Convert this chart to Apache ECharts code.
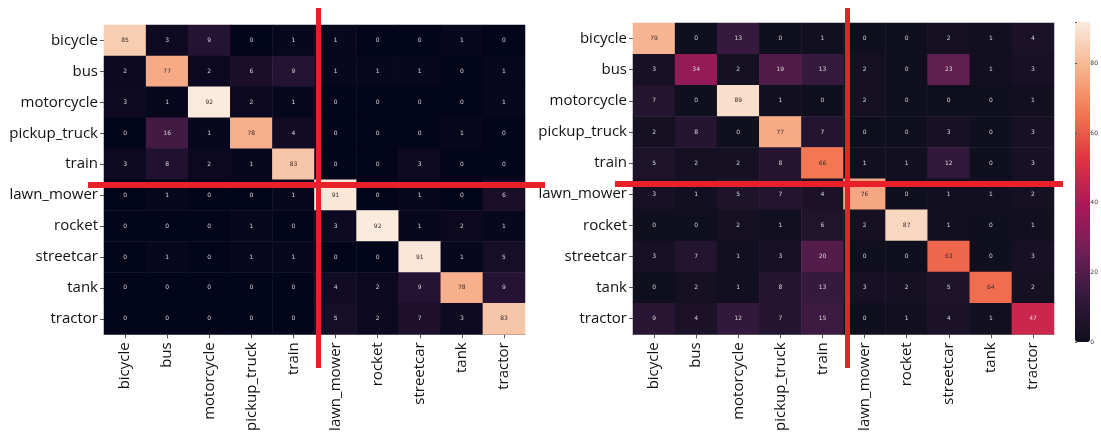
<!DOCTYPE html>
<html>
<head>
<meta charset="utf-8">
<script src="https://cdn.jsdelivr.net/npm/echarts@6/dist/echarts.min.js"></script>
<style>
  html, body { margin: 0; padding: 0; background: #fff; }
  #main { width: 1101px; height: 434px; }
</style>
</head>
<body>
<div id="main"></div>
<script>
const classes = ['bicycle', 'bus', 'motorcycle', 'pickup_truck', 'train',
                 'lawn_mower', 'rocket', 'streetcar', 'tank', 'tractor'];

// rows = true class, columns = predicted class
const leftMatrix = [
  [85, 3, 9, 0, 1, 1, 0, 0, 1, 0],
  [2, 77, 2, 6, 9, 1, 1, 1, 0, 1],
  [3, 1, 92, 2, 1, 0, 0, 0, 0, 1],
  [0, 16, 1, 78, 4, 0, 0, 0, 1, 0],
  [3, 8, 2, 1, 83, 0, 0, 3, 0, 0],
  [0, 1, 0, 0, 1, 91, 0, 1, 0, 6],
  [0, 0, 0, 1, 0, 3, 92, 1, 2, 1],
  [0, 1, 0, 1, 1, 0, 0, 91, 1, 5],
  [0, 0, 0, 0, 0, 4, 2, 9, 78, 9],
  [0, 0, 0, 0, 0, 5, 2, 7, 3, 83]
];

const rightMatrix = [
  [79, 0, 13, 0, 1, 0, 0, 2, 1, 4],
  [3, 34, 2, 19, 13, 2, 0, 23, 1, 3],
  [7, 0, 89, 1, 0, 2, 0, 0, 0, 1],
  [2, 8, 0, 77, 7, 0, 0, 3, 0, 3],
  [5, 2, 2, 8, 66, 1, 1, 12, 0, 3],
  [3, 1, 5, 7, 4, 76, 0, 1, 1, 2],
  [0, 0, 2, 1, 6, 2, 87, 1, 0, 1],
  [3, 7, 1, 3, 20, 0, 0, 63, 0, 3],
  [0, 2, 1, 8, 13, 3, 2, 5, 64, 2],
  [9, 4, 12, 7, 15, 0, 1, 4, 1, 47]
];

const colorTicks = [0, 20, 40, 60, 80];
const vMax = 92;

const rocket = ['#03051a', '#35193e', '#701f57', '#ad1759', '#e13342', '#f37651', '#f6b48f', '#faebdd'];
const rocketRight = ['#0f0f1d', '#35193e', '#701f57', '#ad1759', '#e13342', '#f37651', '#f6b48f', '#faebdd'];

function toCells(m) {
  const out = [];
  m.forEach((row, r) => row.forEach((v, c) => {
    out.push({
      value: [c, r, v],
      label: { color: v > 55 ? '#3a2a2a' : '#d8d8d8' }
    });
  }));
  return out;
}

const font = '"Open Sans", "Noto Sans", sans-serif';

function xAxis(gi) {
  return {
    type: 'category', data: classes, gridIndex: gi,
    axisLine: { show: true, lineStyle: { color: '#888', width: 1 } },
    axisTick: { show: true, length: 4, alignWithLabel: true, lineStyle: { color: '#555' } },
    axisLabel: { rotate: 90, fontSize: 15, color: '#111', fontFamily: font, margin: 8 },
    splitArea: { show: false }
  };
}
function yAxis(gi) {
  return {
    type: 'category', data: classes, gridIndex: gi, inverse: true,
    axisLine: { show: false },
    axisTick: { show: true, length: 4, alignWithLabel: true, lineStyle: { color: '#555' } },
    axisLabel: { fontSize: 15, color: '#111', fontFamily: font, margin: 6 }
  };
}

const cellLabel = { show: true, fontSize: 6, fontFamily: 'DejaVu Sans, sans-serif' };

const red = '#e8202a';
function redRect(x, y, w, h) {
  return { type: 'rect', shape: { x: x, y: y, width: w, height: h }, style: { fill: red }, z: 100 };
}

const chart = echarts.init(document.getElementById('main'));
chart.setOption({
  animation: false,
  backgroundColor: '#fff',
  grid: [
    { left: 104, top: 25, width: 421, height: 318 },
    { left: 633, top: 23, width: 421, height: 320 },
    { left: 1075, top: 22, width: 15, height: 320 }
  ],
  xAxis: [xAxis(0), xAxis(1), { type: 'value', gridIndex: 2, show: false }],
  yAxis: [yAxis(0), yAxis(1), {
    type: 'value', gridIndex: 2, position: 'right', min: 0, max: vMax,
    interval: 20, z: 20,
    axisLine: { show: false },
    axisTick: { show: true, length: 2, lineStyle: { color: '#555' } },
    axisLabel: { fontSize: 6, color: '#333', margin: 1, fontFamily: 'DejaVu Sans, sans-serif',
      formatter: v => colorTicks.indexOf(v) >= 0 ? String(v) : '' },
    splitLine: { show: false }
  }],
  visualMap: [
    { type: 'continuous', min: 0, max: vMax, seriesIndex: 0, show: false,
      inRange: { color: rocket } },
    { type: 'continuous', min: 0, max: vMax, seriesIndex: 1, show: true, z: 1,
      left: 1075, top: 22, itemWidth: 15, itemHeight: 320, padding: 0,
      calculable: false, text: null, showLabel: false, hoverLink: false,
      inRange: { color: rocketRight } }
  ],
  series: [
    { type: 'heatmap', xAxisIndex: 0, yAxisIndex: 0, data: toCells(leftMatrix), label: cellLabel,
      itemStyle: { borderWidth: 0 } },
    { type: 'heatmap', xAxisIndex: 1, yAxisIndex: 1, data: toCells(rightMatrix), label: cellLabel,
      itemStyle: { borderWidth: 0 } }
  ],
  graphic: [
    redRect(316, 8, 5, 360),
    redRect(88, 182, 457, 6),
    redRect(845, 8, 5, 360),
    redRect(615, 181, 448, 6)
  ]
});
</script>
</body>
</html>
